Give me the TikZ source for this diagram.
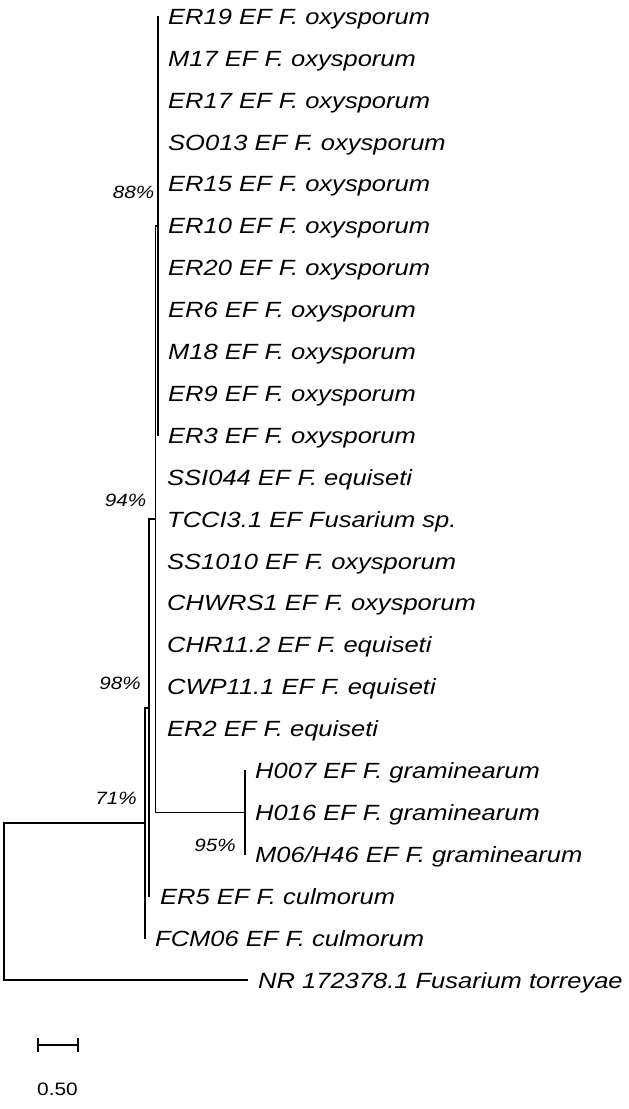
\documentclass[tikz,border=0pt]{standalone}
\usepackage{fontspec}
\newfontfamily\treefont[FakeStretch=1.16]{Liberation Sans}
\newcommand\ly[1]{16.5+41.9*#1}
\begin{document}
\begin{tikzpicture}[x=1pt,y=-1pt,
  br/.style={line width=1.7pt, line cap=rect, black},
  leaf/.style={anchor=west, inner sep=0pt, font=\treefont\itshape\fontsize{22}{22}\selectfont, text height=15.75pt, text depth=0pt},
  boot/.style={anchor=center, inner sep=0pt, font=\treefont\itshape\fontsize{17.8}{18}\selectfont, text height=12.7pt, text depth=0pt},
  scaletext/.style={anchor=center, inner sep=0pt, font=\treefont\fontsize{18}{18}\selectfont, text height=12.9pt, text depth=0pt}]
\useasboundingbox (0,0) rectangle (629,1109);
\fill[white] (0,0) rectangle (629,1109);
% internal nodes
\coordinate (n88) at (158,{\ly{5}});
\coordinate (n94) at (155.5,{\ly{12}});
\coordinate (n95) at (245,{\ly{19}});
\coordinate (n98) at (149,{\ly{16.5}});
\coordinate (n71) at (145,{\ly{19.25}});
\coordinate (root) at (4,{\ly{21.125}});
% leaf tips
\foreach \i in {0,...,10} {\coordinate (t\i) at (158,{\ly{\i}});}
\foreach \i in {11,...,17} {\coordinate (t\i) at (155.5,{\ly{\i}});}
\foreach \i in {18,19,20} {\coordinate (t\i) at (245,{\ly{\i}});}
\coordinate (t21) at (149,{\ly{21}});
\coordinate (t22) at (145,{\ly{22}});
\coordinate (t23) at (247,{\ly{23}});
% leaf labels
\node[leaf] (l0) at ([xshift=10pt]t0) {ER19 EF F. oxysporum};
\node[leaf] (l1) at ([xshift=10pt]t1) {M17 EF F. oxysporum};
\node[leaf] (l2) at ([xshift=10pt]t2) {ER17 EF F. oxysporum};
\node[leaf] (l3) at ([xshift=10pt]t3) {SO013 EF F. oxysporum};
\node[leaf] (l4) at ([xshift=10pt]t4) {ER15 EF F. oxysporum};
\node[leaf] (l5) at ([xshift=10pt]t5) {ER10 EF F. oxysporum};
\node[leaf] (l6) at ([xshift=10pt]t6) {ER20 EF F. oxysporum};
\node[leaf] (l7) at ([xshift=10pt]t7) {ER6 EF F. oxysporum};
\node[leaf] (l8) at ([xshift=10pt]t8) {M18 EF F. oxysporum};
\node[leaf] (l9) at ([xshift=10pt]t9) {ER9 EF F. oxysporum};
\node[leaf] (l10) at ([xshift=10pt]t10) {ER3 EF F. oxysporum};
\node[leaf] (l11) at ([xshift=11.5pt]t11) {SSI044 EF F. equiseti};
\node[leaf] (l12) at ([xshift=11.5pt]t12) {TCCI3.1 EF Fusarium sp.};
\node[leaf] (l13) at ([xshift=11.5pt]t13) {SS1010 EF F. oxysporum};
\node[leaf] (l14) at ([xshift=11.5pt]t14) {CHWRS1 EF F. oxysporum};
\node[leaf] (l15) at ([xshift=11.5pt]t15) {CHR11.2 EF F. equiseti};
\node[leaf] (l16) at ([xshift=11.5pt]t16) {CWP11.1 EF F. equiseti};
\node[leaf] (l17) at ([xshift=11.5pt]t17) {ER2 EF F. equiseti};
\node[leaf] (l18) at ([xshift=10pt]t18) {H007 EF F. graminearum};
\node[leaf] (l19) at ([xshift=10pt]t19) {H016 EF F. graminearum};
\node[leaf] (l20) at ([xshift=10pt]t20) {M06/H46 EF F. graminearum};
\node[leaf] (l21) at ([xshift=11pt]t21) {ER5 EF F. culmorum};
\node[leaf] (l22) at ([xshift=10pt]t22) {FCM06 EF F. culmorum};
\node[leaf] (l23) at ([xshift=11pt]t23) {NR 172378.1 Fusarium torreyae};
% branches
\draw[br] (t0) -- (t10);
\draw[br] (n94 |- n88) -- (n88);
\draw[br] (n94 |- n88) -- (n94 |- n95) -- (n95);
\draw[br] (t18) -- (t20);
\draw[br] (n98 |- n94) -- (n94);
\draw[br] (n98 |- n94) -- (t21);
\draw[br] (n71 |- n98) -- (n98);
\draw[br] (n71 |- n98) -- (t22);
\draw[br] (root |- n71) -- (n71);
\draw[br] (root |- n71) -- (root |- t23) -- (t23);
% bootstrap values
\node[boot] (b88) at (133.5,192) {88\%};
\node[boot] (b94) at (125.5,500) {94\%};
\node[boot] (b98) at (120,683) {98\%};
\node[boot] (b71) at (116,798) {71\%};
\node[boot] (b95) at (215,845) {95\%};
% scale bar
\coordinate (s1) at (38,1045);
\coordinate (s2) at (78,1045);
\draw[br] (s1) -- (s2);
\draw[br] ([yshift=-6pt]s1) -- ([yshift=6pt]s1);
\draw[br] ([yshift=-6pt]s2) -- ([yshift=6pt]s2);
\node[scaletext] (sl) at (57.5,1089) {0.50};
\end{tikzpicture}
\end{document}
